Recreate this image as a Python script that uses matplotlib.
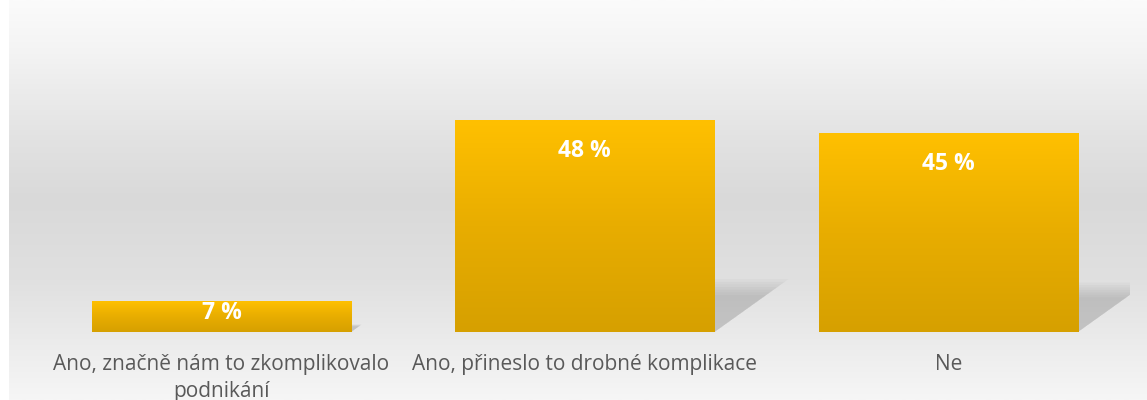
import numpy as np
import matplotlib.pyplot as plt
from matplotlib.colors import LinearSegmentedColormap
from matplotlib.patches import Polygon

categories = ["Ano, značně nám to zkomplikovalo\npodnikání",
              "Ano, přineslo to drobné komplikace",
              "Ne"]
values = [7, 48, 45]
labels = ["7 %", "48 %", "45 %"]

W, H = 1147, 400
fig = plt.figure(figsize=(W / 100, H / 100), dpi=100)
fig.patch.set_facecolor("white")

# background panel gradient (light top, grey middle, light bottom)
bg = fig.add_axes([9 / W, 0, 1 - 9 / W, 1], zorder=0)
bg_cmap = LinearSegmentedColormap.from_list(
    "bg", [(0.0, "#fbfbfb"), (0.12, "#f4f4f4"), (0.35, "#e2e2e2"),
           (0.5, "#d9d9d9"), (0.7, "#e0e0e0"), (0.85, "#ebebeb"), (1.0, "#f6f6f6")])
bg.imshow(np.linspace(0, 1, 256).reshape(-1, 1), cmap=bg_cmap, aspect="auto",
          extent=[0, 1, 1, 0])
bg.axis("off")

# plot area
x0, x1 = 39.75, 1130
y_bot = 332
ymax = 71
px_per = 4.4
y_top = y_bot - ymax * px_per
ax = fig.add_axes([x0 / W, (H - y_bot) / H, (x1 - x0) / W, (y_bot - y_top) / H], zorder=1)
ax.patch.set_alpha(0)
for s in ax.spines.values():
    s.set_visible(False)
ax.set_yticks([])
ax.set_xticks([])

bar_w = 0.713
bar_cmap = LinearSegmentedColormap.from_list("bar", ["#d6a000", "#e8ad00", "#ffc000"])
grad = np.linspace(0, 1, 256).reshape(-1, 1)

for i, v in enumerate(values):
    left, right = i - bar_w / 2, i + bar_w / 2
    # skewed soft shadow behind the bar
    sh_h = v * 0.25
    sh_dx = v * 0.35 * px_per / ((x1 - x0) / 3)
    for k in range(7):
        grow = 1 - k * 0.05
        poly = Polygon([(left, 0), (right, 0),
                        (right + sh_dx * grow, sh_h * grow),
                        (left + sh_dx * grow, sh_h * grow)],
                       closed=True, facecolor="#969696", edgecolor="none",
                       alpha=0.08, zorder=1)
        ax.add_patch(poly)
    ax.imshow(grad, cmap=bar_cmap, aspect="auto", origin="lower",
              extent=[left, right, 0, v], zorder=2)
    off = min(30, 0.38 * v * px_per) / px_per
    ax.text(i, v - off, labels[i], ha="center", va="center", color="white",
            fontsize=16.5, fontweight="bold", family="Open Sans", zorder=3)

ax.set_xlim(-0.5, 2.5)
ax.set_ylim(0, ymax)

for i, c in enumerate(categories):
    ax.text(i, -4.9, c, ha="center", va="top", color="#595959",
            fontsize=15, family="Open Sans", linespacing=1.4)

fig.savefig("out.png", dpi=100)
